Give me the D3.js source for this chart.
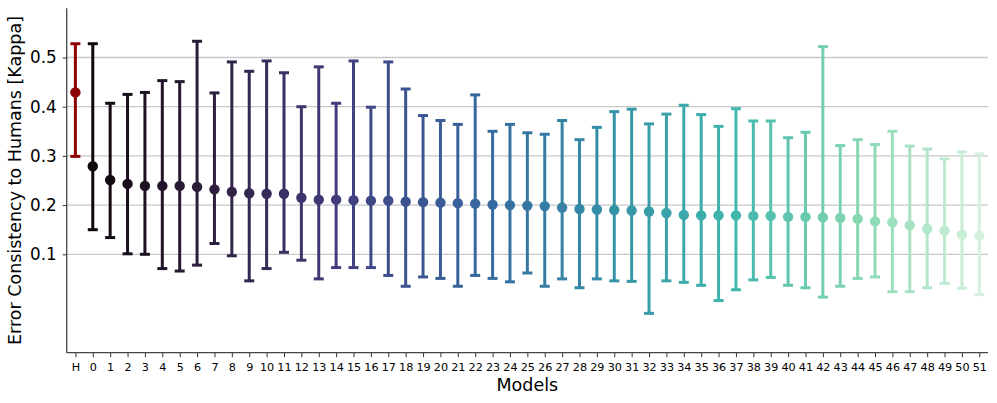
<!DOCTYPE html>
<html>
<head>
<meta charset="utf-8">
<script src="https://cdn.jsdelivr.net/npm/d3@7"></script>
<style>
  html, body { margin: 0; padding: 0; background: #fff; }
  svg { display: block; font-family: "DejaVu Sans", sans-serif; }
</style>
</head>
<body>
<svg id="chart" width="997" height="403"></svg>
<script>
// ---- data ----
const categories = ["H","0","1","2","3","4","5","6","7","8","9","10","11","12","13","14","15","16","17","18","19","20","21","22","23","24","25","26","27","28","29","30","31","32","33","34","35","36","37","38","39","40","41","42","43","44","45","46","47","48","49","50","51"];
const means = [0.429,0.279,0.251,0.243,0.239,0.239,0.239,0.237,0.232,0.227,0.224,0.223,0.223,0.215,0.211,0.211,0.210,0.209,0.209,0.207,0.206,0.205,0.204,0.203,0.201,0.200,0.199,0.198,0.195,0.192,0.191,0.190,0.189,0.187,0.184,0.180,0.179,0.179,0.179,0.178,0.178,0.176,0.176,0.175,0.174,0.172,0.167,0.165,0.159,0.152,0.148,0.140,0.138];
const upper = [0.528,0.528,0.407,0.425,0.429,0.453,0.451,0.533,0.428,0.491,0.472,0.493,0.469,0.400,0.481,0.407,0.493,0.399,0.491,0.436,0.382,0.372,0.364,0.424,0.350,0.364,0.347,0.344,0.372,0.333,0.358,0.390,0.395,0.365,0.385,0.403,0.384,0.360,0.396,0.371,0.371,0.337,0.348,0.522,0.321,0.333,0.323,0.350,0.320,0.314,0.294,0.308,0.304];
const lower = [0.299,0.150,0.134,0.101,0.100,0.071,0.066,0.078,0.122,0.097,0.046,0.071,0.104,0.088,0.050,0.073,0.073,0.073,0.057,0.035,0.054,0.051,0.035,0.057,0.051,0.044,0.062,0.035,0.050,0.032,0.050,0.046,0.045,-0.020,0.046,0.043,0.037,0.006,0.028,0.048,0.053,0.037,0.032,0.013,0.035,0.051,0.054,0.024,0.024,0.032,0.041,0.031,0.018];
const yTicks = [0.1, 0.2, 0.3, 0.4, 0.5];
const xLabel = "Models";
const yLabel = "Error Consistency to Humans [Kappa]";

// ---- colours (mako-like palette) ----
const makoStops = ["#0B0405","#2E1E3C","#413E7E","#37659E","#348FA7","#40B7AD","#8AD9B1","#DEF5E5"];
const mako = d3.scaleLinear()
  .domain(makoStops.map((d, i) => i / (makoStops.length - 1)))
  .range(makoStops)
  .interpolate(d3.interpolateRgb);
const nModels = categories.length - 1;
function colorOf(i) {
  if (i === 0) return "#8B0000";
  const k = i - 1;
  return mako((k + 1) / (nModels + 1));
}

// ---- layout ----
const svg = d3.select("#chart");
const mLeft = 66.7, mRight = 988, mTop = 8.3, mBottom = 352.7;

const x = d3.scalePoint().domain(categories).range([mLeft, mRight]).padding(0.5);
const y = d3.scaleLinear().domain([-0.1, 0.6]).range([mBottom, mTop]);

// grid
svg.append("g")
  .selectAll("line")
  .data(yTicks)
  .join("line")
  .attr("x1", mLeft).attr("x2", mRight)
  .attr("y1", d => y(d)).attr("y2", d => y(d))
  .attr("stroke", "#c8c8c8").attr("stroke-width", 1.3);

// error bars
const rows = categories.map((c, i) => ({c, i, m: means[i], lo: lower[i], hi: upper[i]}));
const g = svg.append("g");
const capW = 10;
g.selectAll("line.err")
  .data(rows).join("line").attr("class", "err")
  .attr("x1", d => x(d.c)).attr("x2", d => x(d.c))
  .attr("y1", d => y(d.lo)).attr("y2", d => y(d.hi))
  .attr("stroke", d => colorOf(d.i)).attr("stroke-width", 3);
g.selectAll("line.capHi")
  .data(rows).join("line").attr("class", "capHi")
  .attr("x1", d => x(d.c) - capW / 2).attr("x2", d => x(d.c) + capW / 2)
  .attr("y1", d => y(d.hi)).attr("y2", d => y(d.hi))
  .attr("stroke", d => colorOf(d.i)).attr("stroke-width", 3);
g.selectAll("line.capLo")
  .data(rows).join("line").attr("class", "capLo")
  .attr("x1", d => x(d.c) - capW / 2).attr("x2", d => x(d.c) + capW / 2)
  .attr("y1", d => y(d.lo)).attr("y2", d => y(d.lo))
  .attr("stroke", d => colorOf(d.i)).attr("stroke-width", 3);
g.selectAll("circle")
  .data(rows).join("circle")
  .attr("cx", d => x(d.c)).attr("cy", d => y(d.m))
  .attr("r", 5.2)
  .attr("fill", d => colorOf(d.i));

// axes
const yAxis = svg.append("g")
  .attr("transform", `translate(${mLeft},0)`)
  .call(d3.axisLeft(y).tickValues(yTicks).tickFormat(d3.format(".1f")).tickSize(4).tickSizeOuter(0).tickPadding(6));
yAxis.select(".domain").remove();
yAxis.selectAll(".tick line").attr("stroke", "#333").attr("stroke-width", 1);
yAxis.selectAll(".tick text").attr("font-size", 16.8).attr("fill", "#000").attr("font-family", "DejaVu Sans");

const xAxis = svg.append("g")
  .attr("transform", `translate(0,${mBottom})`)
  .call(d3.axisBottom(x).tickSize(4.5).tickSizeOuter(0).tickPadding(5.5));
xAxis.select(".domain").remove();
xAxis.selectAll(".tick line").attr("stroke", "#333").attr("stroke-width", 1);
xAxis.selectAll(".tick text").attr("font-size", 11.2).attr("fill", "#000").attr("font-family", "DejaVu Sans");

// spines
svg.append("line").attr("x1", mLeft).attr("x2", mLeft).attr("y1", mTop).attr("y2", mBottom)
  .attr("stroke", "#444").attr("stroke-width", 1.3);
svg.append("line").attr("x1", mLeft).attr("x2", mRight).attr("y1", mBottom).attr("y2", mBottom)
  .attr("stroke", "#444").attr("stroke-width", 1.3);

// labels
svg.append("text")
  .attr("x", (mLeft + mRight) / 2).attr("y", 391)
  .attr("text-anchor", "middle").attr("font-size", 17.5).attr("fill", "#000")
  .text(xLabel);
svg.append("text")
  .attr("transform", `translate(21,${(mTop + mBottom) / 2}) rotate(-90)`)
  .attr("text-anchor", "middle").attr("font-size", 17.5).attr("fill", "#000")
  .text(yLabel);
</script>
</body>
</html>
